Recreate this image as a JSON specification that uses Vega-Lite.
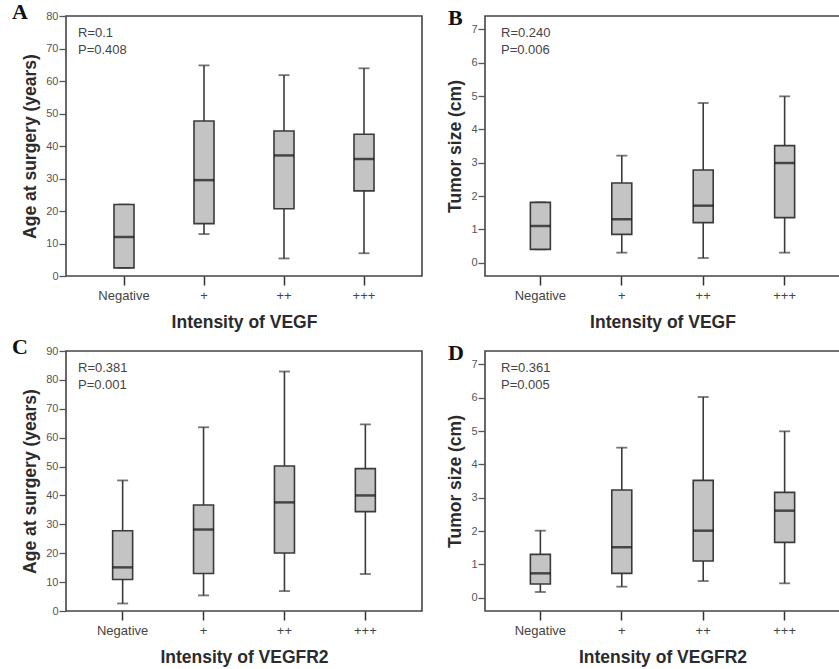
{
  "$schema": "https://vega.github.io/schema/vega-lite/v6.json",
  "background": "white",
  "padding": {"left": 11, "top": 0, "right": 0, "bottom": 0},
  "config": {
    "font": "Liberation Sans",
    "view": {"stroke": "#444", "strokeWidth": 1.6},
    "axis": {"domain": false, "grid": false, "titleFont": "Liberation Sans", "labelFont": "Liberation Sans", "titleFontWeight": "bold", "titleColor": "#2b2b2b", "titleFontSize": 17.5, "labelOverlap": false},
    "axisY": {"tickSize": 7, "tickColor": "#555", "tickWidth": 1.3, "labelFontSize": 11, "labelColor": "#555", "labelPadding": 1, "titlePadding": 6},
    "axisX": {"tickSize": 9, "tickColor": "#333", "tickWidth": 1.5, "labelFontSize": 13, "labelColor": "#444", "labelPadding": 4, "titlePadding": 11, "labelAngle": 0},
    "title": {"font": "Liberation Serif", "fontSize": 22, "fontWeight": "bold", "color": "#111", "anchor": "start", "frame": "group", "offset": -14, "baseline": "alphabetic"}
  },
  "datasets": {
    "boxes": [
      {"panel": "A", "cat": "Negative", "min": 2.5, "q1": 2.5, "median": 12, "q3": 22, "max": 22},
      {"panel": "A", "cat": "+", "min": 12.9, "q1": 16.1, "median": 29.5, "q3": 47.7, "max": 64.8},
      {"panel": "A", "cat": "++", "min": 5.4, "q1": 20.7, "median": 37.1, "q3": 44.6, "max": 61.8},
      {"panel": "A", "cat": "+++", "min": 7, "q1": 26.2, "median": 36, "q3": 43.6, "max": 63.9},
      {"panel": "B", "cat": "Negative", "min": 0.4, "q1": 0.4, "median": 1.1, "q3": 1.81, "max": 1.81},
      {"panel": "B", "cat": "+", "min": 0.3, "q1": 0.85, "median": 1.3, "q3": 2.39, "max": 3.21},
      {"panel": "B", "cat": "++", "min": 0.14, "q1": 1.2, "median": 1.71, "q3": 2.78, "max": 4.79},
      {"panel": "B", "cat": "+++", "min": 0.3, "q1": 1.35, "median": 2.99, "q3": 3.51, "max": 4.99},
      {"panel": "C", "cat": "Negative", "min": 2.6, "q1": 10.9, "median": 15.1, "q3": 27.8, "max": 45.2},
      {"panel": "C", "cat": "+", "min": 5.4, "q1": 13, "median": 28.2, "q3": 36.7, "max": 63.6},
      {"panel": "C", "cat": "++", "min": 6.9, "q1": 20.1, "median": 37.6, "q3": 50.2, "max": 82.9},
      {"panel": "C", "cat": "+++", "min": 12.8, "q1": 34.4, "median": 40, "q3": 49.3, "max": 64.6},
      {"panel": "D", "cat": "Negative", "min": 0.17, "q1": 0.41, "median": 0.73, "q3": 1.3, "max": 2.01},
      {"panel": "D", "cat": "+", "min": 0.33, "q1": 0.73, "median": 1.51, "q3": 3.23, "max": 4.5},
      {"panel": "D", "cat": "++", "min": 0.5, "q1": 1.1, "median": 2.01, "q3": 3.52, "max": 6.02},
      {"panel": "D", "cat": "+++", "min": 0.43, "q1": 1.66, "median": 2.61, "q3": 3.16, "max": 4.99}
    ],
    "stats": [
      {"panel": "A", "label": "R=0.1\nP=0.408", "top": 80},
      {"panel": "B", "label": "R=0.240\nP=0.006", "top": 7.4},
      {"panel": "C", "label": "R=0.381\nP=0.001", "top": 90},
      {"panel": "D", "label": "R=0.361\nP=0.005", "top": 7.4}
    ]
  },
  "bounds": "flush",
  "columns": 2,
  "spacing": {"row": 75, "column": 63},
  "concat": [
    {
      "title": {"text": "A", "dx": -54},
      "width": 356, "height": 260,
      "layer": [
        {
          "data": {"name": "boxes"},
          "transform": [{"filter": "datum.panel === 'A'"}],
          "encoding": {
            "x": {"field": "cat", "type": "nominal", "sort": ["Negative", "+", "++", "+++"], "scale": {"paddingInner": 0, "paddingOuter": 0.225}, "title": "Intensity of VEGF"},
            "y": {"type": "quantitative", "scale": {"domain": [0, 80], "nice": false, "zero": false}, "axis": {"values": [0, 10, 20, 30, 40, 50, 60, 70, 80]}, "title": "Age at surgery (years)"}
          },
          "layer": [
            {"mark": {"type": "rule", "color": "#3a3a3a", "strokeWidth": 1.6}, "encoding": {"y": {"field": "min"}, "y2": {"field": "max"}}},
            {"mark": {"type": "tick", "color": "#3a3a3a", "size": 11, "thickness": 1.8}, "encoding": {"y": {"field": "min"}}},
            {"mark": {"type": "tick", "color": "#3a3a3a", "size": 11, "thickness": 1.8}, "encoding": {"y": {"field": "max"}}},
            {"mark": {"type": "bar", "size": 20, "fill": "#c4c4c4", "stroke": "#3a3a3a", "strokeWidth": 1.6}, "encoding": {"y": {"field": "q1"}, "y2": {"field": "q3"}}},
            {"mark": {"type": "tick", "color": "#111", "size": 20, "thickness": 2.5}, "encoding": {"y": {"field": "median"}}}
          ]
        },
        {
          "data": {"name": "stats"},
          "transform": [{"filter": "datum.panel === 'A'"}],
          "mark": {"type": "text", "align": "left", "baseline": "top", "lineBreak": "\n", "fontSize": 13, "color": "#444", "lineHeight": 17, "dx": 12, "dy": 11},
          "encoding": {"x": {"value": 0}, "y": {"field": "top", "type": "quantitative", "axis": {"values": [0, 10, 20, 30, 40, 50, 60, 70, 80]}, "title": "Age at surgery (years)"}, "text": {"field": "label"}}
        }
      ]
    },
    {
      "title": {"text": "B", "dx": -37},
      "width": 355, "height": 260,
      "layer": [
        {
          "data": {"name": "boxes"},
          "transform": [{"filter": "datum.panel === 'B'"}],
          "encoding": {
            "x": {"field": "cat", "type": "nominal", "sort": ["Negative", "+", "++", "+++"], "scale": {"paddingInner": 0, "paddingOuter": 0.18}, "title": "Intensity of VEGF"},
            "y": {"type": "quantitative", "scale": {"domain": [-0.4, 7.4], "nice": false, "zero": false}, "axis": {"values": [0, 1, 2, 3, 4, 5, 6, 7]}, "title": "Tumor size (cm)"}
          },
          "layer": [
            {"mark": {"type": "rule", "color": "#3a3a3a", "strokeWidth": 1.6}, "encoding": {"y": {"field": "min"}, "y2": {"field": "max"}}},
            {"mark": {"type": "tick", "color": "#3a3a3a", "size": 11, "thickness": 1.8}, "encoding": {"y": {"field": "min"}}},
            {"mark": {"type": "tick", "color": "#3a3a3a", "size": 11, "thickness": 1.8}, "encoding": {"y": {"field": "max"}}},
            {"mark": {"type": "bar", "size": 20, "fill": "#c4c4c4", "stroke": "#3a3a3a", "strokeWidth": 1.6}, "encoding": {"y": {"field": "q1"}, "y2": {"field": "q3"}}},
            {"mark": {"type": "tick", "color": "#111", "size": 20, "thickness": 2.5}, "encoding": {"y": {"field": "median"}}}
          ]
        },
        {
          "data": {"name": "stats"},
          "transform": [{"filter": "datum.panel === 'B'"}],
          "mark": {"type": "text", "align": "left", "baseline": "top", "lineBreak": "\n", "fontSize": 13, "color": "#444", "lineHeight": 17, "dx": 16, "dy": 11},
          "encoding": {"x": {"value": 0}, "y": {"field": "top", "type": "quantitative", "axis": {"values": [0, 1, 2, 3, 4, 5, 6, 7]}, "title": "Tumor size (cm)"}, "text": {"field": "label"}}
        }
      ]
    },
    {
      "title": {"text": "C", "dx": -54},
      "width": 356, "height": 260,
      "layer": [
        {
          "data": {"name": "boxes"},
          "transform": [{"filter": "datum.panel === 'C'"}],
          "encoding": {
            "x": {"field": "cat", "type": "nominal", "sort": ["Negative", "+", "++", "+++"], "scale": {"paddingInner": 0, "paddingOuter": 0.2}, "title": "Intensity of VEGFR2"},
            "y": {"type": "quantitative", "scale": {"domain": [0, 90], "nice": false, "zero": false}, "axis": {"values": [0, 10, 20, 30, 40, 50, 60, 70, 80, 90]}, "title": "Age at surgery (years)"}
          },
          "layer": [
            {"mark": {"type": "rule", "color": "#3a3a3a", "strokeWidth": 1.6}, "encoding": {"y": {"field": "min"}, "y2": {"field": "max"}}},
            {"mark": {"type": "tick", "color": "#3a3a3a", "size": 11, "thickness": 1.8}, "encoding": {"y": {"field": "min"}}},
            {"mark": {"type": "tick", "color": "#3a3a3a", "size": 11, "thickness": 1.8}, "encoding": {"y": {"field": "max"}}},
            {"mark": {"type": "bar", "size": 20, "fill": "#c4c4c4", "stroke": "#3a3a3a", "strokeWidth": 1.6}, "encoding": {"y": {"field": "q1"}, "y2": {"field": "q3"}}},
            {"mark": {"type": "tick", "color": "#111", "size": 20, "thickness": 2.5}, "encoding": {"y": {"field": "median"}}}
          ]
        },
        {
          "data": {"name": "stats"},
          "transform": [{"filter": "datum.panel === 'C'"}],
          "mark": {"type": "text", "align": "left", "baseline": "top", "lineBreak": "\n", "fontSize": 13, "color": "#444", "lineHeight": 17, "dx": 12, "dy": 11},
          "encoding": {"x": {"value": 0}, "y": {"field": "top", "type": "quantitative", "axis": {"values": [0, 10, 20, 30, 40, 50, 60, 70, 80, 90]}, "title": "Age at surgery (years)"}, "text": {"field": "label"}}
        }
      ]
    },
    {
      "title": {"text": "D", "dx": -37},
      "width": 355, "height": 260,
      "layer": [
        {
          "data": {"name": "boxes"},
          "transform": [{"filter": "datum.panel === 'D'"}],
          "encoding": {
            "x": {"field": "cat", "type": "nominal", "sort": ["Negative", "+", "++", "+++"], "scale": {"paddingInner": 0, "paddingOuter": 0.18}, "title": "Intensity of VEGFR2"},
            "y": {"type": "quantitative", "scale": {"domain": [-0.4, 7.4], "nice": false, "zero": false}, "axis": {"values": [0, 1, 2, 3, 4, 5, 6, 7]}, "title": "Tumor size (cm)"}
          },
          "layer": [
            {"mark": {"type": "rule", "color": "#3a3a3a", "strokeWidth": 1.6}, "encoding": {"y": {"field": "min"}, "y2": {"field": "max"}}},
            {"mark": {"type": "tick", "color": "#3a3a3a", "size": 11, "thickness": 1.8}, "encoding": {"y": {"field": "min"}}},
            {"mark": {"type": "tick", "color": "#3a3a3a", "size": 11, "thickness": 1.8}, "encoding": {"y": {"field": "max"}}},
            {"mark": {"type": "bar", "size": 20, "fill": "#c4c4c4", "stroke": "#3a3a3a", "strokeWidth": 1.6}, "encoding": {"y": {"field": "q1"}, "y2": {"field": "q3"}}},
            {"mark": {"type": "tick", "color": "#111", "size": 20, "thickness": 2.5}, "encoding": {"y": {"field": "median"}}}
          ]
        },
        {
          "data": {"name": "stats"},
          "transform": [{"filter": "datum.panel === 'D'"}],
          "mark": {"type": "text", "align": "left", "baseline": "top", "lineBreak": "\n", "fontSize": 13, "color": "#444", "lineHeight": 17, "dx": 16, "dy": 11},
          "encoding": {"x": {"value": 0}, "y": {"field": "top", "type": "quantitative", "axis": {"values": [0, 1, 2, 3, 4, 5, 6, 7]}, "title": "Tumor size (cm)"}, "text": {"field": "label"}}
        }
      ]
    }
  ]
}
